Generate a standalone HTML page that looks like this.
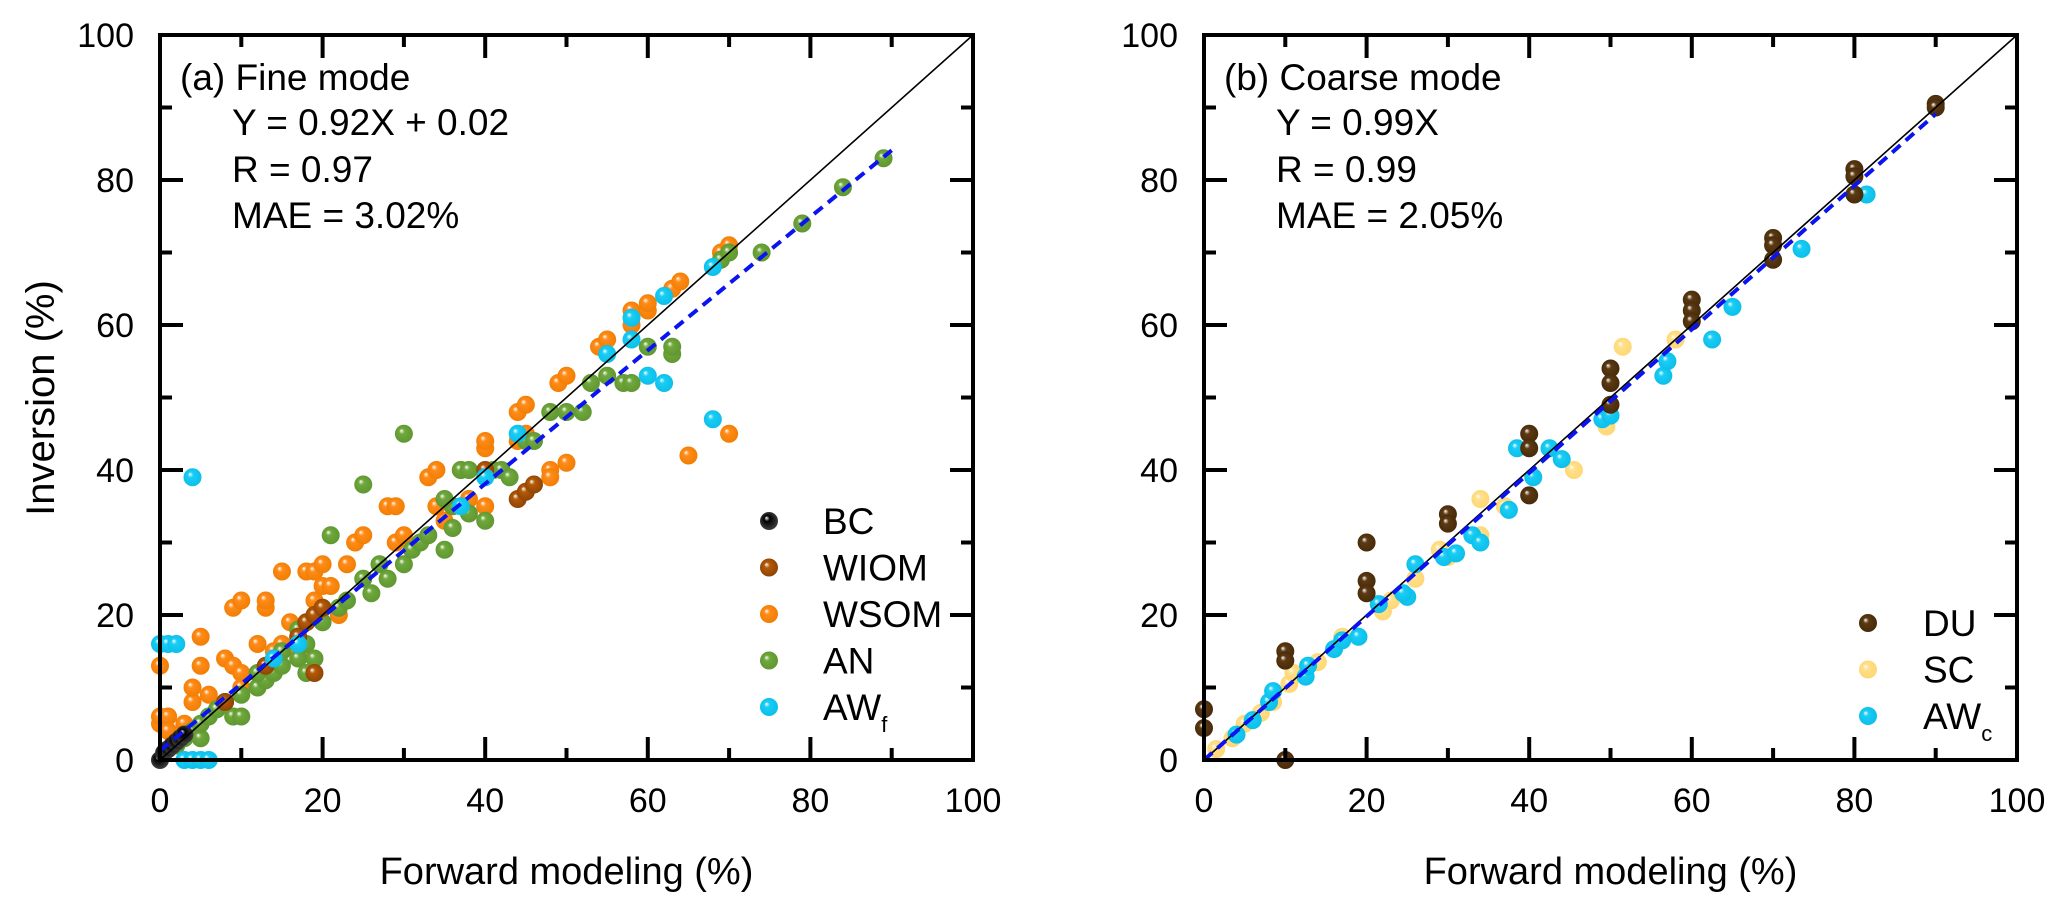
<!DOCTYPE html>
<html><head><meta charset="utf-8">
<style>
html,body{margin:0;padding:0;background:#fff;}
svg{display:block;font-family:"Liberation Sans",Arial,sans-serif;}
</style></head>
<body>
<svg id="chart" width="2067" height="912" viewBox="0 0 2067 912">
<defs id="defs"></defs>
<g id="root"></g>
</svg>
<script>
// ---- Panel (a) fine mode data ----
const bcX=[0,0.5,1,1.5,2,2.5,3];
const bcY=[0,1,1.5,2,2.5,3,3.5];
const wsomX=[0,0,0,1,1,4,4,5,5,8,9,9,10,10,13,13,15,15,17,18,19,19,20,20,22,23,24,25,28,29,29,30,33,34,34,35,37,38,40,40,40,44,44,45,45,48,49,50,50,54,55,58,58,60,60,63,64,65,69,70,70,48,21,14,16,12,3,6,10];
const wsomY=[5,6,13,6,4,8,10,13,17,14,13,21,22,12,21,22,26,16,15,26,26,22,27,24,20,27,30,31,35,35,30,31,39,40,35,33,40,36,43,44,35,44,48,49,45,40,52,53,41,57,58,60,62,62,63,65,66,42,70,71,45,39,24,15,19,16,5,9,10];
const wiomX=[19,18,19,20,17,44,45,46,40,13,8];
const wiomY=[12,19,20,21,17,36,37,38,40,13,8];
const anX=[2,3,4,5,5,6,7,8,9,10,10,12,13,14,15,17,18,18,19,20,21,22,23,25,25,26,27,28,30,30,31,32,33,35,36,37,38,38,40,41,42,43,45,46,48,50,52,53,55,57,58,60,63,63,69,70,74,79,84,89,17,15,12,35,36];
const anY=[2,3,4,3,5,6,7,8,6,6,9,10,11,12,13,14,12,16,14,19,31,21,22,38,25,23,27,25,27,45,29,30,31,29,35,40,34,40,33,40,40,39,44,44,48,48,48,52,53,52,52,57,56,57,69,70,70,74,79,83,18,15,12,36,32];
const awfX=[0,1,2,4,3,4,5,6,14,17,37,40,44,58,58,62,60,62,68,68,55];
const awfY=[16,16,16,39,0,0,0,0,14,16,35,39,45,58,61,64,53,52,47,68,56];
// ---- Panel (b) coarse mode data ----
const duX=[0,0,10,10,10,20,20,20,30,30,40,40,40,50,50,50,60,60,60,70,70,70,80,80,80,90,90];
const duY=[7,4.4,0,15,13.7,30,24.7,23,33.9,32.6,45,43,36.5,54,52,49,63.5,62,60.5,72,71,69,81.5,80.5,78,90.5,90];
const scX=[1.5,3.5,5,7,8.5,10.5,11,14,17,22,23,26,29,30,34,34,37,45.5,49.5,51.5,58];
const scY=[1.5,3,5,6.5,8,10.5,12,13.5,17,20.5,22,25,29,28,31,36,35,40,46,57,58];
const awcX=[4,6,8,8.5,12.5,12.8,16,17,19,21.5,25,24.5,26,29.5,31,33,34,37.5,38.5,40.5,42.5,44,49,50,56.5,57,62.5,65,73.5,81.5];
const awcY=[3.5,5.5,8,9.5,11.5,13,15.3,16.5,17,21.5,22.5,23,27,28,28.5,31,30,34.5,43,39,43,41.5,47,47.5,53,55,58,62.5,70.5,78];
const ticks=[0,20,40,60,80,100];
const minorTicks=[10,30,50,70,90];
const fitA=[0.92,1.3];
const fitB=[0.99,0];

const NS="http://www.w3.org/2000/svg";
const root=document.getElementById('root');
const defs=document.getElementById('defs');
function mk(tag,attrs,parent){const e=document.createElementNS(NS,tag);for(const k in attrs)e.setAttribute(k,attrs[k]);(parent||root).appendChild(e);return e;}

const colors={bc:['#000','#444'],wiom:['#b55a08','#8a4204'],wsom:['#ff8c1a','#f07c00'],an:['#6fa83c','#5e9530'],aw:['#19cdf5','#0bbde8'],du:['#5c3a12','#45290a'],sc:['#ffe08c','#ffd671']};
for(const k in colors){
  const g=mk('radialGradient',{id:'g-'+k,cx:'0.5',cy:'0.5',r:'0.55',fx:'0.35',fy:'0.32'},defs);
  mk('stop',{offset:'0',"stop-color":'#ffffff'},g);
  mk('stop',{offset:'0.28',"stop-color":colors[k][0]},g);
  mk('stop',{offset:'1',"stop-color":colors[k][1]},g);
}

function panel(px0,px1,py0,py1,name){
  const sx=v=>px0+(px1-px0)*v/100;
  const sy=v=>py0-(py0-py1)*v/100;
  const g=mk('g',{});
  
  
  return {sx,sy,g};
}
function axes(P,px0,px1,py0,py1,prefix){
  const g=mk('g',{},P.g);
  
  
  ticks.forEach(t=>{
    const x=P.sx(t),y=P.sy(t);
    mk('line',{x1:x,y1:py0,x2:x,y2:py0-23,stroke:'#000','stroke-width':4},g);
    mk('line',{x1:x,y1:py1,x2:x,y2:py1+23,stroke:'#000','stroke-width':4},g);
    mk('line',{x1:px0,y1:y,x2:px0+23,y2:y,stroke:'#000','stroke-width':4},g);
    mk('line',{x1:px1,y1:y,x2:px1-23,y2:y,stroke:'#000','stroke-width':4},g);
    const xl=mk('text',{x:x,y:py0+52,'text-anchor':'middle','font-size':34},g);
    xl.textContent=t;
    
    
    const yl=mk('text',{x:px0-26,y:y+12,'text-anchor':'end','font-size':34},g);
    yl.textContent=t;
    
    
  });
  minorTicks.forEach(t=>{
    const x=P.sx(t),y=P.sy(t);
    mk('line',{x1:x,y1:py0,x2:x,y2:py0-12,stroke:'#000','stroke-width':4},g);
    mk('line',{x1:x,y1:py1,x2:x,y2:py1+12,stroke:'#000','stroke-width':4},g);
    mk('line',{x1:px0,y1:y,x2:px0+12,y2:y,stroke:'#000','stroke-width':4},g);
    mk('line',{x1:px1,y1:y,x2:px1-12,y2:y,stroke:'#000','stroke-width':4},g);
  });
  const r=mk('rect',{x:px0,y:py1,width:px1-px0,height:py0-py1,fill:'none',stroke:'#000','stroke-width':4},g);
  
  
  const xt=mk('text',{x:(px0+px1)/2,y:py0+124,'text-anchor':'middle','font-size':38},g);
  xt.textContent='Forward modeling (%)';
  
  
}
function series(P,xs,ys,key,name){
  const g=mk('g',{},P.g);
  
  
  xs.forEach((x,i)=>{
    const c=mk('circle',{cx:P.sx(x),cy:P.sy(ys[i]),r:9,fill:'url(#g-'+key+')'},g);
    
    
  });
}
function lines(P,fit,xmax,prefix){
  const l=mk('line',{x1:P.sx(0),y1:P.sy(0),x2:P.sx(100),y2:P.sy(100),stroke:'#000','stroke-width':1.6},P.g);
  
  
  const f=mk('line',{x1:P.sx(0),y1:P.sy(fit[1]),x2:P.sx(xmax),y2:P.sy(fit[0]*xmax+fit[1]),stroke:'#0a14f0','stroke-width':4,'stroke-dasharray':'11 7'},P.g);
  
  
}
function texts(P,x0,lines_,prefix){
  const ys=[90,135,182,228];
  lines_.forEach((t,i)=>{
    const e=mk('text',{x:i===0?x0+20:x0+72,y:ys[i],'font-size':37},P.g);
    e.textContent=t;
    
    
  });
}
function legend(P,mx,tx,y0,entries,prefix){
  entries.forEach((en,i)=>{
    const y=y0+i*46.5;
    const g=mk('g',{},P.g);
    
    
    mk('circle',{cx:mx,cy:y,r:9,fill:'url(#g-'+en[0]+')'},g);
    const t=mk('text',{x:tx,y:y+13,'font-size':37},g);
    t.textContent=en[1];
    if(en[2]){const s=mk('tspan',{'font-size':22,dy:12},t);s.textContent=en[2];}
  });
}

// Panel A
const A=panel(160,973,760,35,'fine-mode-panel');
series(A,wsomX,wsomY,'wsom','wsom-series');
series(A,anX,anY,'an','an-series');
series(A,wiomX,wiomY,'wiom','wiom-series');
series(A,awfX,awfY,'aw','awf-series');
series(A,bcX,bcY,'bc','bc-series');
lines(A,fitA,90,'fine');
axes(A,160,973,760,35,'fine');
texts(A,160,['(a) Fine mode','Y = 0.92X + 0.02','R = 0.97','MAE = 3.02%'],'fine');
legend(A,769,823,521,[['bc','BC'],['wiom','WIOM'],['wsom','WSOM'],['an','AN'],['aw','AW','f']],'fine');
const yt=mk('text',{x:0,y:0,'text-anchor':'middle','font-size':40,transform:'translate(54,398) rotate(-90)'});
yt.textContent='Inversion (%)';



// Panel B
const B=panel(1204,2017,760,35,'coarse-mode-panel');
series(B,scX,scY,'sc','sc-series');
series(B,awcX,awcY,'aw','awc-series');
series(B,duX,duY,'du','du-series');
lines(B,fitB,90,'coarse');
axes(B,1204,2017,760,35,'coarse');
texts(B,1204,['(b) Coarse mode','Y = 0.99X','R = 0.99','MAE = 2.05%'],'coarse');
legend(B,1868,1923,623,[['du','DU'],['sc','SC'],['aw','AW','c']],'coarse');
</script>
</body></html>
